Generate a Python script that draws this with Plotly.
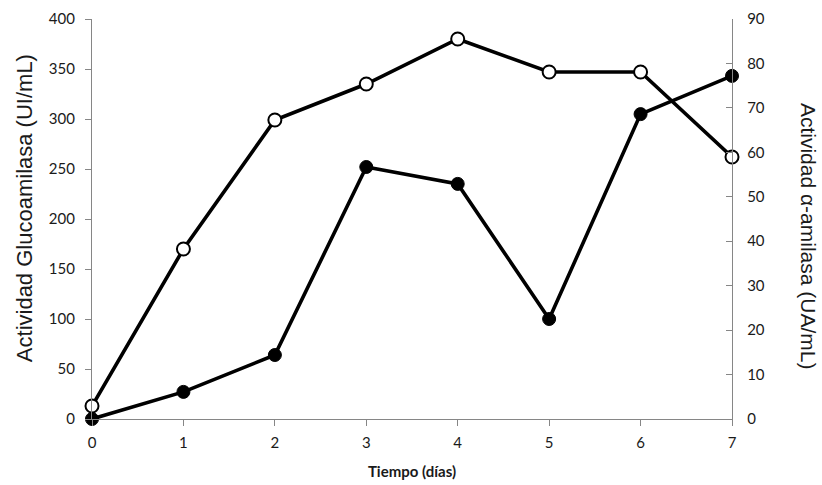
import plotly.graph_objects as go

dias = [0, 1, 2, 3, 4, 5, 6, 7]
glucoamilasa = [13, 170, 299, 335, 380, 347, 347, 262]          # open circles, left axis (UI/mL)
alfa_amilasa = [0, 6.1, 14.4, 56.7, 52.9, 22.5, 68.6, 77.2]     # filled circles, right axis (UA/mL)

left_ticks = list(range(0, 401, 50))
right_ticks = list(range(0, 91, 10))

axis_gray = "#868686"
tick_font = dict(family="Lato, Open Sans, sans-serif", size=15, color="#1a1a1a")
title_font = dict(family="Liberation Sans, Arial, sans-serif", size=22, color="#1a1a1a")

fig = go.Figure()
fig.add_trace(go.Scatter(
    x=dias, y=alfa_amilasa, yaxis="y2", mode="lines+markers",
    line=dict(color="black", width=3.6),
    marker=dict(symbol="circle", size=13, color="black", line=dict(color="black", width=1)),
    cliponaxis=False, showlegend=False))
fig.add_trace(go.Scatter(
    x=dias, y=glucoamilasa, mode="lines+markers",
    line=dict(color="black", width=3.6),
    marker=dict(symbol="circle", size=13, color="white", line=dict(color="black", width=2)),
    cliponaxis=False, showlegend=False))

fig.update_layout(
    width=822, height=485,
    margin=dict(l=92, r=90, t=19, b=66, autoexpand=False),
    paper_bgcolor="white", plot_bgcolor="white",
    xaxis=dict(range=[0, 7], tickvals=dias, showgrid=False, zeroline=False,
               showline=True, linecolor=axis_gray, linewidth=1.3,
               ticks="outside", ticklen=6, tickcolor=axis_gray, tickfont=tick_font,
               ticklabelstandoff=4,
               title=dict(text="<b>Tiempo (días)</b>",
                          font=dict(family="Lato, Open Sans, sans-serif", size=15, color="#1a1a1a"),
                          standoff=16)),
    yaxis=dict(range=[0, 400], tickvals=left_ticks, showgrid=False, zeroline=False,
               showline=True, linecolor=axis_gray, linewidth=1.3,
               ticks="outside", ticklen=6, tickcolor=axis_gray, tickfont=tick_font,
               ticklabelstandoff=7),
    yaxis2=dict(range=[0, 90], tickvals=right_ticks, overlaying="y", side="right",
                showgrid=False, zeroline=False,
                showline=True, linecolor=axis_gray, linewidth=1.3,
                ticks="inside", ticklen=6, tickcolor=axis_gray, tickfont=tick_font,
                ticklabelstandoff=11),
    annotations=[
        dict(text="Actividad Glucoamilasa (UI/mL)", xref="paper", yref="paper",
             x=-0.106, y=0.5275, textangle=-90, showarrow=False, xanchor="center", yanchor="middle",
             font=title_font),
        dict(text="Actividad α-amilasa (UA/mL)", xref="paper", yref="paper",
             x=1.1205, y=0.4575, textangle=90, showarrow=False, xanchor="center", yanchor="middle",
             font=dict(family="Liberation Sans, Arial, sans-serif", size=21, color="#1a1a1a")),
    ],
)

fig.write_html("out.html", config={"displayModeBar": False},
               post_script="document.body.style.margin='0';")
